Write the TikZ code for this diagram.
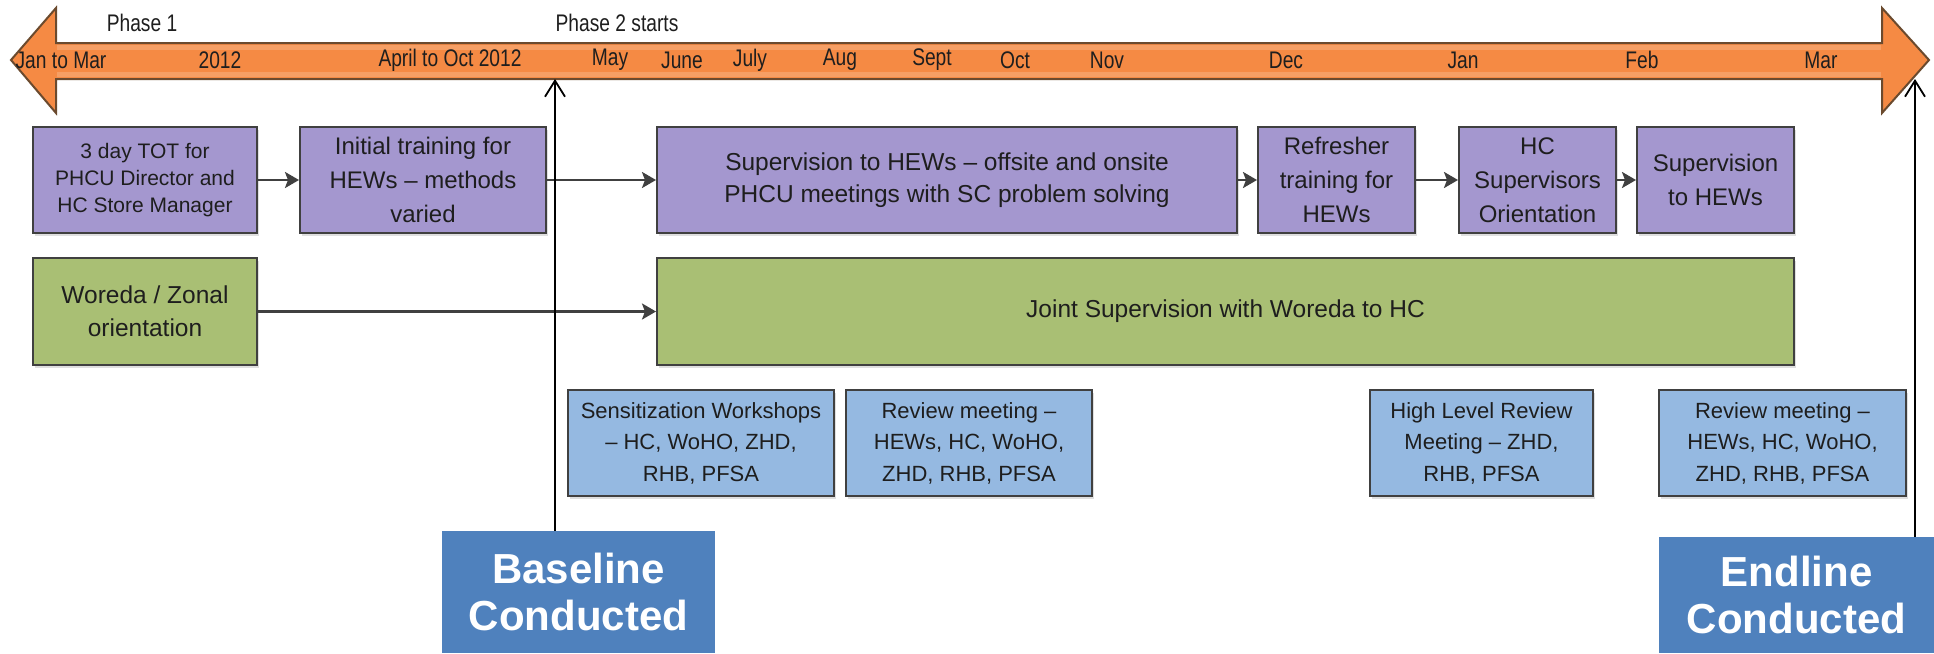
\documentclass[tikz,border=0pt]{standalone}
\usepackage{fontspec}
\setmainfont{Liberation Sans}
\newfontfamily\narrowfont{Liberation Sans}[FakeStretch=0.8]
\usetikzlibrary{arrows.meta,shadows}
\definecolor{purp}{HTML}{A497CF}
\definecolor{grn}{HTML}{A9BF74}
\definecolor{lblue}{HTML}{95B9E1}
\definecolor{dblue}{HTML}{4F81BD}
\definecolor{orng}{HTML}{F58A44}
\definecolor{oedge}{HTML}{6B4A2E}
\definecolor{edgec}{HTML}{404040}
\definecolor{txt}{HTML}{1E1E1E}
\begin{document}
\begin{tikzpicture}[x=1pt,y=-1pt,
  box/.style={draw=edgec, line width=2pt, inner sep=0pt, align=center, text=txt,
    drop shadow={shadow xshift=2pt,shadow yshift=-3pt,opacity=0.25}},
  pbox/.style={box, fill=purp, minimum height=106pt},
  gbox/.style={box, fill=grn, minimum height=107pt},
  lbox/.style={box, fill=lblue, minimum height=106pt, font=\fontsize{22}{31.5}\selectfont},
  callout/.style={fill=dblue, inner sep=0pt, align=center, text=white,
    font=\bfseries\fontsize{42}{47}\selectfont},
  tl/.style={inner sep=0pt, text=txt, font=\narrowfont\fontsize{24}{24}\selectfont},
  conn/.style={draw=edgec, line width=2.5pt, -{Stealth[length=14pt,width=16pt,inset=3pt]}},
  pointer/.style={draw=black, line width=1.8pt, -{Straight Barb[length=16pt,width=20pt,line width=1.8pt]}}
]
\useasboundingbox (0,0) rectangle (1934,653);
\fill[white] (0,0) rectangle (1934,653);

% timeline arrow
\filldraw[fill=orng, draw=oedge, line width=2pt, line join=miter]
  (11,60) -- (56,8) -- (56,43) -- (1882,43) -- (1882,8) -- (1929,60)
  -- (1882,113) -- (1882,79) -- (56,79) -- (56,113) -- cycle;
\fill[white, opacity=0.18] (57,45) rectangle (1881,50);
\fill[white, opacity=0.18] (57,72) rectangle (1881,77);

\node[tl] (ph1) at (142,23) {Phase 1};
\node[tl] (ph2) at (617,23) {Phase 2 starts};
\node[tl] (t1) at (61,60) {Jan to Mar};
\node[tl] (t2) at (220,60) {2012};
\node[tl] (t3) at (450,60) {April to Oct 2012};
\node[tl] (t4) at (610,60) {May};
\node[tl] (t5) at (682,60) {June};
\node[tl] (t6) at (750,60) {July};
\node[tl] (t7) at (840,60) {Aug};
\node[tl] (t8) at (932,60) {Sept};
\node[tl] (t9) at (1015,60) {Oct};
\node[tl] (t10) at (1107,60) {Nov};
\node[tl] (t11) at (1286,60) {Dec};
\node[tl] (t12) at (1463,60) {Jan};
\node[tl] (t13) at (1642,60) {Feb};
\node[tl] (t14) at (1821,60) {Mar};
\coordinate (bt) at (555,79);
\coordinate (et) at (1915,79);

% row 1
\node[pbox, minimum width=224pt, font=\fontsize{21}{27}\selectfont] (b1) at (145,180)
  {3 day TOT for\\PHCU Director and\\HC Store Manager};
\node[pbox, minimum width=246pt, font=\fontsize{24}{34}\selectfont] (b2) at (423,180)
  {Initial training for\\HEWs -- methods\\varied};
\node[pbox, minimum width=580pt, font=\fontsize{24.5}{32}\selectfont] (b3) at (947,180)
  {Supervision to HEWs -- offsite and onsite\\PHCU meetings with SC problem solving};
\node[pbox, minimum width=157pt, font=\fontsize{24}{34}\selectfont] (b4) at (1336.5,180)
  {Refresher\\training for\\HEWs};
\node[pbox, minimum width=157pt, font=\fontsize{24}{34}\selectfont] (b5) at (1537.5,180)
  {HC\\Supervisors\\Orientation};
\node[pbox, minimum width=157pt, font=\fontsize{24}{34}\selectfont] (b6) at (1715.5,180)
  {Supervision\\to HEWs};

% row 2
\node[gbox, minimum width=224pt, font=\fontsize{24.5}{33}\selectfont] (g1) at (145,311.5)
  {Woreda / Zonal\\orientation};
\node[gbox, minimum width=1137pt, font=\fontsize{24.5}{33}\selectfont] (g2) at (1225.5,311.5)
  {Joint Supervision with Woreda to HC};

% row 3
\node[lbox, minimum width=266pt] (l1) at (701,443)
  {Sensitization Workshops\\-- HC, WoHO, ZHD,\\RHB, PFSA};
\node[lbox, minimum width=246pt] (l2) at (969,443)
  {Review meeting --\\HEWs, HC, WoHO,\\ZHD, RHB, PFSA};
\node[lbox, minimum width=223pt] (l3) at (1481.5,443)
  {High Level Review\\Meeting -- ZHD,\\RHB, PFSA};
\node[lbox, minimum width=247pt] (l4) at (1782.5,443)
  {Review meeting --\\HEWs, HC, WoHO,\\ZHD, RHB, PFSA};

% callouts
\node[callout, minimum width=273pt, minimum height=122pt] (base) at (578.5,592)
  {Baseline\\Conducted};
\node[callout, minimum width=275pt, minimum height=116pt] (endl) at (1796.5,595)
  {Endline\\Conducted};

% connectors
\draw[conn] (b1) -- (b2);
\draw[conn] (b2) -- (b3);
\draw[conn] (b3) -- (b4);
\draw[conn] (b4) -- (b5);
\draw[conn] (b5) -- (b6);
\draw[conn] (g1) -- (g2);

\draw[pointer] (base.north -| bt) -- (bt);
\draw[pointer] (endl.north -| et) -- (et);
\end{tikzpicture}
\end{document}
